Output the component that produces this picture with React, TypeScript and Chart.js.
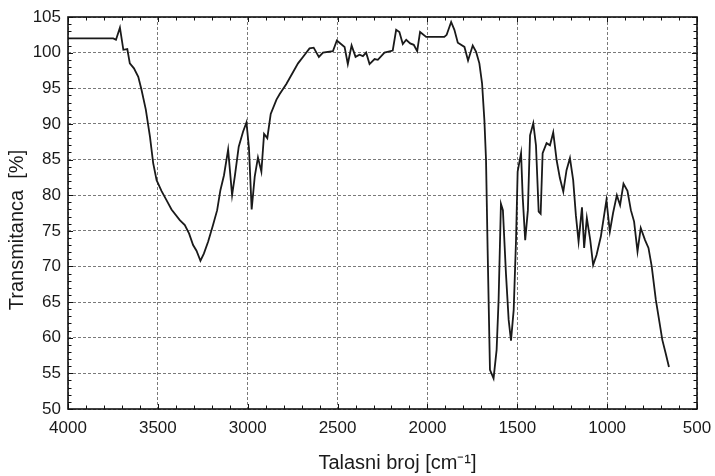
import React, { useEffect, useRef } from "react";
import { Chart, registerables } from "chart.js";

Chart.register(...registerables);

const wavenumbers = [
  4000, 3900, 3800, 3748, 3733, 3711, 3692, 3670, 3656, 3633, 3609, 3591, 3567, 3544, 3526, 3507,
  3480, 3452, 3424, 3378, 3350, 3326, 3304, 3285, 3263, 3244, 3220, 3193, 3170, 3152, 3132, 3109,
  3087, 3072, 3050, 3026, 3007, 2993, 2978, 2961, 2943, 2924, 2909, 2891, 2872, 2840, 2822, 2785,
  2767, 2720, 2683, 2656, 2633, 2604, 2581, 2526, 2504, 2461, 2443, 2422, 2400, 2378, 2359, 2341,
  2322, 2294, 2276, 2239, 2193, 2174, 2156, 2137, 2118, 2096, 2076, 2057, 2041, 2007, 1906, 1893,
  1868, 1850, 1831, 1794, 1774, 1748, 1729, 1711, 1696, 1683, 1674, 1665, 1652, 1632, 1615, 1604,
  1591, 1580, 1563, 1548, 1535, 1520, 1507, 1498, 1479, 1470, 1456, 1441, 1429, 1411, 1396, 1381,
  1370, 1359, 1337, 1318, 1300, 1281, 1263, 1244, 1226, 1207, 1189, 1174, 1159, 1140, 1128, 1113,
  1094, 1078, 1059, 1035, 1004, 985, 967, 946, 928, 909, 887, 868, 850, 831, 813, 789,
  770, 752, 729, 711, 693, 674, 656,
];

const transmittance = [
  102.0, 102.0, 102.0, 102.0, 101.8, 103.5, 100.4, 100.5, 98.5, 97.8, 96.6, 94.8, 92.0, 88.2, 84.5, 82.1,
  80.6, 79.3, 78.0, 76.5, 75.8, 74.6, 73.0, 72.2, 70.8, 71.8, 73.5, 75.8, 77.9, 80.7, 82.8, 86.4,
  80.0, 82.6, 86.8, 88.9, 90.2, 86.6, 78.0, 82.6, 85.3, 83.3, 88.6, 88.0, 91.4, 93.4, 94.2, 95.6,
  96.4, 98.5, 99.7, 100.6, 100.7, 99.4, 100.0, 100.2, 101.7, 100.8, 98.4, 101.0, 99.4, 99.7, 99.5, 100.0,
  98.4, 99.1, 99.0, 100.0, 100.3, 103.2, 102.9, 101.2, 101.8, 101.3, 101.1, 100.2, 102.9, 102.2, 102.2, 102.5,
  104.3, 103.2, 101.4, 100.8, 98.9, 101.0, 100.1, 98.5, 95.7, 90.5, 85.0, 72.3, 55.5, 54.3, 58.3, 65.3,
  78.8, 77.9, 69.0, 62.5, 59.6, 63.9, 73.7, 83.3, 85.9, 79.8, 73.7, 77.9, 88.4, 90.1, 87.0, 77.7,
  77.4, 85.9, 87.3, 87.0, 88.8, 84.9, 82.4, 80.5, 83.5, 85.2, 82.1, 77.2, 73.5, 78.3, 72.6, 76.8,
  73.7, 70.2, 71.6, 74.2, 79.3, 74.9, 77.5, 80.0, 78.6, 81.6, 80.6, 77.9, 76.3, 72.1, 75.4, 73.7,
  72.6, 70.0, 65.3, 62.5, 59.7, 57.8, 55.9,
];

const xMin = 500;
const xMax = 4000;
const xMajorStep = 500;
const xMinorStep = 100;
const yMin = 50;
const yMax = 105;
const yMajorStep = 5;
const yMinorStep = 1;

const xTitle = "Talasni broj [cm\u207B\u00B9]";
const yTitle = "Transmitanca  [%]";

const FONT = "'Liberation Sans', Arial, Helvetica, sans-serif";

const framePlugin = {
  id: "frameTicks",
  afterDatasetsDraw(chart: any) {
    const { ctx, chartArea, scales } = chart;
    const { left, right, top, bottom } = chartArea;
    const xs = scales.x;
    const ys = scales.y;
    ctx.save();
    ctx.strokeStyle = "#111";
    ctx.lineWidth = 1;
    ctx.beginPath();
    for (let v = xMin; v <= xMax; v += xMinorStep) {
      const px = Math.round(xs.getPixelForValue(v)) + 0.5;
      const len = v % xMajorStep === 0 ? 5 : 3.5;
      ctx.moveTo(px, bottom);
      ctx.lineTo(px, bottom - len);
      ctx.moveTo(px, top);
      ctx.lineTo(px, top + len);
    }
    for (let v = yMin; v <= yMax; v += yMinorStep) {
      const py = Math.round(ys.getPixelForValue(v)) + 0.5;
      const len = v % yMajorStep === 0 ? 5 : 3.5;
      ctx.moveTo(left, py);
      ctx.lineTo(left + len, py);
      ctx.moveTo(right, py);
      ctx.lineTo(right - len, py);
    }
    ctx.stroke();
    ctx.lineWidth = 1.6;
    ctx.strokeStyle = "#111";
    ctx.strokeRect(left, top, right - left, bottom - top);

    ctx.fillStyle = "#1a1a1a";
    ctx.font = `20px ${FONT}`;
    ctx.textAlign = "center";
    ctx.textBaseline = "middle";
    ctx.fillText(xTitle, (left + right) / 2 + 15, bottom + 54);
    ctx.save();
    ctx.translate(17, (top + bottom) / 2 + 17);
    ctx.rotate(-Math.PI / 2);
    ctx.fillText(yTitle, 0, 0);
    ctx.restore();
    ctx.restore();
  },
};

export default function App() {
  const ref = useRef<HTMLCanvasElement | null>(null);
  useEffect(() => {
    document.body.style.margin = "0";
    if (!ref.current) return;
    const points = wavenumbers.map((w, i) => ({ x: w, y: transmittance[i] }));
    const chart = new Chart(ref.current, {
      type: "line",
      data: {
        datasets: [
          {
            data: points,
            borderColor: "#1a1a1a",
            borderWidth: 1.8,
            pointRadius: 0,
            tension: 0,
            fill: false,
          },
        ],
      },
      plugins: [framePlugin],
      options: {
        animation: false,
        responsive: false,
        maintainAspectRatio: false,
        layout: { padding: { top: 17, right: 18, left: 0, bottom: 0 } },
        plugins: { legend: { display: false }, tooltip: { enabled: false }, title: { display: false } },
        scales: {
          x: {
            type: "linear",
            reverse: true,
            min: xMin,
            max: xMax,
            border: { display: false, dash: [3, 2] },
            grid: {
              color: "#7a7a7a",
              lineWidth: 1,
              drawTicks: false,
            },
            ticks: {
              stepSize: xMajorStep,
              padding: 9,
              color: "#1a1a1a",
              font: { family: FONT, size: 17 },
              maxRotation: 0,
              callback: (v: any) => String(v),
            },
            afterFit: (s: any) => {
              s.height = 67;
              s.paddingLeft = 0;
              s.paddingRight = 0;
            },
          },
          y: {
            type: "linear",
            min: yMin,
            max: yMax,
            border: { display: false, dash: [3, 2] },
            grid: {
              color: "#7a7a7a",
              lineWidth: 1,
              drawTicks: false,
            },
            ticks: {
              stepSize: yMajorStep,
              padding: 7,
              color: "#1a1a1a",
              font: { family: FONT, size: 17 },
              callback: (v: any) => String(v),
            },
            afterFit: (s: any) => {
              s.width = 68;
              s.paddingTop = 0;
              s.paddingBottom = 0;
            },
          },
        },
      } as any,
    });
    return () => chart.destroy();
  }, []);
  return (
    <div style={{ width: 715, height: 476 }}>
      <canvas ref={ref} width={715} height={476} style={{ width: 715, height: 476, display: "block" }} />
    </div>
  );
}
